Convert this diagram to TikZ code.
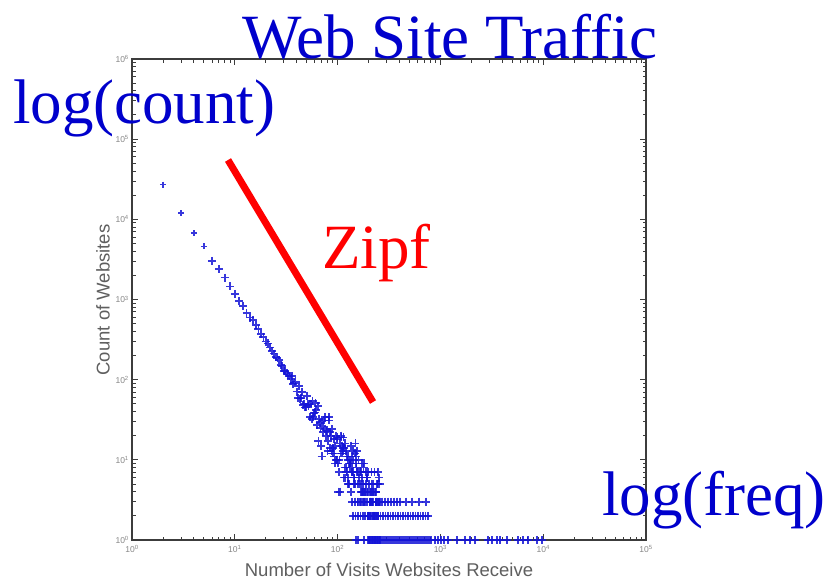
\documentclass[tikz,border=0pt]{standalone}
\usepackage{fontspec}
\setmainfont{Liberation Serif}
\newfontfamily\axisfont{Liberation Sans}
\definecolor{titleblue}{RGB}{0,0,204}
\definecolor{zipfred}{RGB}{255,0,0}
\definecolor{datablue}{RGB}{20,20,215}
\definecolor{axisgray}{RGB}{60,60,60}
\definecolor{labelgray}{RGB}{95,95,95}
\tikzset{
  bigtext/.style={font=\fontsize{63}{70}\selectfont, inner sep=0pt, outer sep=0pt, anchor=base west},
  bluetext/.style={bigtext, text=titleblue},
  redtext/.style={bigtext, text=zipfred},
  frameline/.style={draw=axisgray, line width=1.1pt},
  tickline/.style={draw=axisgray, line width=0.8pt},
  ticklabel/.style={font=\axisfont\fontsize{8.5}{8.5}\selectfont, text=labelgray!75, inner sep=0pt},
  axislabel/.style={font=\axisfont\fontsize{18.5}{20}\selectfont, text=labelgray, inner sep=0pt},
  datamark/.style={draw=datablue, line width=1.7pt, draw opacity=0.85},
  zipfline/.style={draw=zipfred, line width=7pt},
}
\begin{document}
\begin{tikzpicture}[x=1pt,y=-1pt]
\useasboundingbox (0,0) rectangle (830,584);
\fill[white] (0,0) rectangle (830,584);

% plot frame
\coordinate (plotNW) at (132,59);
\coordinate (plotSE) at (646,540);
\draw[frameline] (plotNW) rectangle (plotSE);

% logarithmic ticks on the horizontal axes
\foreach \k in {0,...,4}{
  \foreach \m in {2,...,9}{
    \pgfmathsetmacro{\tx}{132+102.8*(\k+ln(\m)*0.4342945)}
    \draw[tickline] (\tx,540) -- (\tx,536.5) (\tx,59) -- (\tx,62.5);
  }
}
\foreach \k in {0,...,5}{
  \pgfmathsetmacro{\tx}{132+102.8*\k}
  \draw[tickline] (\tx,540) -- ++(0,-6) (\tx,59) -- ++(0,6);
  \node[ticklabel, anchor=north] (xtick\k) at (\tx,545) {10\textsuperscript{\k}};
}

% logarithmic ticks on the vertical axes
\foreach \k in {0,...,5}{
  \foreach \m in {2,...,9}{
    \pgfmathsetmacro{\ty}{540-80.2*(\k+ln(\m)*0.4342945)}
    \draw[tickline] (132,\ty) -- (135.5,\ty) (646,\ty) -- (642.5,\ty);
  }
}
\foreach \k in {0,...,6}{
  \pgfmathsetmacro{\ty}{540-80.2*\k}
  \draw[tickline] (132,\ty) -- ++(6,0) (646,\ty) -- ++(-6,0);
  \node[ticklabel, anchor=east] (ytick\k) at (129,\ty) {10\textsuperscript{\k}};
}

% axis titles
\node[axislabel, rotate=90] (ylabel) at (103,300) {Count of Websites};
\node[axislabel, anchor=base] (xlabel) at (389,576) {Number of Visits Websites Receive};

% scattered counts following a power law with noise
\pgfmathsetseed{1234}
\foreach \n in {2,...,260}{
  \pgfmathsetmacro{\lnn}{ln(\n)*0.4342945}
  \pgfmathsetmacro{\lgl}{4.4314-1.95*(\lnn-0.30103)}
  \pgfmathsetmacro{\gn}{rand+rand+rand}
  \ifdim\lgl pt>2pt
    \pgfmathsetmacro{\lcount}{\lgl+0.012*\gn}
  \else
    \pgfmathsetmacro{\lam}{pow(10,\lgl)}
    \pgfmathsetmacro{\cnt}{round(\lam+1.4*sqrt(\lam)*\gn)}
    \ifdim\cnt pt<1pt
      \def\lcount{-1}
    \else
      \pgfmathsetmacro{\lcount}{ln(\cnt)*0.4342945}
    \fi
  \fi
  \ifdim\lcount pt>-0.5pt
    \pgfmathsetmacro{\xp}{132+102.8*\lnn}
    \pgfmathsetmacro{\yp}{540-80.2*\lcount}
    \pgfmathsetmacro{\hs}{\n<6 ? 3 : 4}
    \draw[datamark] (\xp-\hs,\yp) -- (\xp+\hs,\yp) (\xp,\yp-\hs) -- (\xp,\yp+\hs);
  \fi
}
% rows of small counts in the tail
\foreach \xp in {352,355,...,400,406,412,419,426}{
  \draw[datamark] (\xp-4,501.7) -- (\xp+4,501.7) (\xp,497.7) -- (\xp,505.7);
}
\foreach \xp in {353,355.5,...,428}{
  \draw[datamark] (\xp-4,515.9) -- (\xp+4,515.9) (\xp,511.9) -- (\xp,519.9);
}
\foreach \xp in {368,369.5,...,432,435,438,441,444,448,457,465,470,475,488,492,497,500,507,518,523,528,537,542}{
  \draw[datamark] (\xp-4,540) -- (\xp+4,540) (\xp,536) -- (\xp,544);
}

% Zipf reference line
\coordinate (zipfA) at (228,160);
\coordinate (zipfB) at (373,402);
\draw[zipfline] (zipfA) -- (zipfB);

% annotations
\node[bluetext] (title) at (242,58) {Web Site Traffic};
\node[bluetext] (ylog) at (13,123) {log(count)};
\node[redtext] (zipflabel) at (322,268) {Zipf};
\node[bluetext] (xlog) at (602,515) {log(freq)};
\end{tikzpicture}
\end{document}
